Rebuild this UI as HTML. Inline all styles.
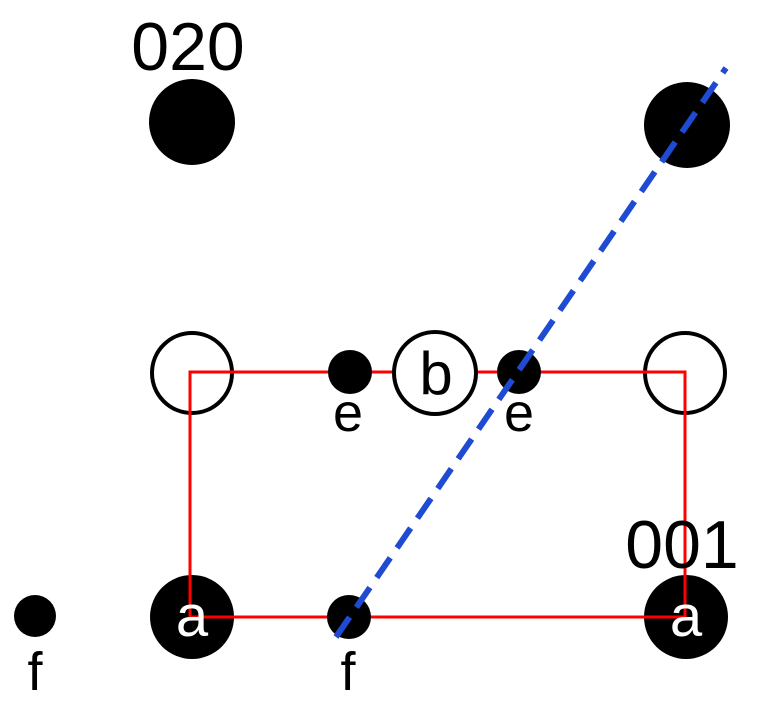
<!DOCTYPE html>
<html><head><style>body{margin:0;background:#fff}svg{display:block}</style></head><body>
<svg width="770" height="703" xmlns="http://www.w3.org/2000/svg" font-family="Liberation Sans, sans-serif">
<circle cx="192" cy="122" r="43" fill="#000"/>
<circle cx="687" cy="125" r="43" fill="#000"/>
<circle cx="192" cy="617" r="42" fill="#000"/>
<circle cx="686" cy="617" r="42" fill="#000"/>
<circle cx="192" cy="373" r="40" fill="#fff" stroke="#000" stroke-width="4"/>
<circle cx="685" cy="373" r="40" fill="#fff" stroke="#000" stroke-width="4"/>
<rect x="190" y="372" width="495" height="245" fill="none" stroke="#f00" stroke-width="3"/>
<circle cx="350" cy="372" r="22" fill="#000"/>
<circle cx="519" cy="372" r="22" fill="#000"/>
<circle cx="435" cy="373" r="41" fill="#fff" stroke="#000" stroke-width="4"/>
<circle cx="349" cy="617" r="22" fill="#000"/>
<circle cx="35" cy="616" r="21" fill="#000"/>
<text x="436" y="394" font-size="60" text-anchor="middle">b</text>
<text x="192" y="636" font-size="58" text-anchor="middle" fill="#fff">a</text>
<text x="686" y="636" font-size="58" text-anchor="middle" fill="#fff">a</text>
<text x="348" y="431" font-size="54" text-anchor="middle">e</text>
<text x="519" y="431" font-size="54" text-anchor="middle">e</text>
<text x="348" y="690" font-size="54" text-anchor="middle">f</text>
<text x="35" y="690" font-size="54" text-anchor="middle">f</text>
<text x="188" y="70" font-size="68" text-anchor="middle">020</text>
<text x="682" y="568" font-size="68" text-anchor="middle">001</text>
<line x1="336" y1="637" x2="726" y2="68" stroke="#1e4bd2" stroke-width="6" stroke-dasharray="24,12"/>
</svg>
</body></html>
